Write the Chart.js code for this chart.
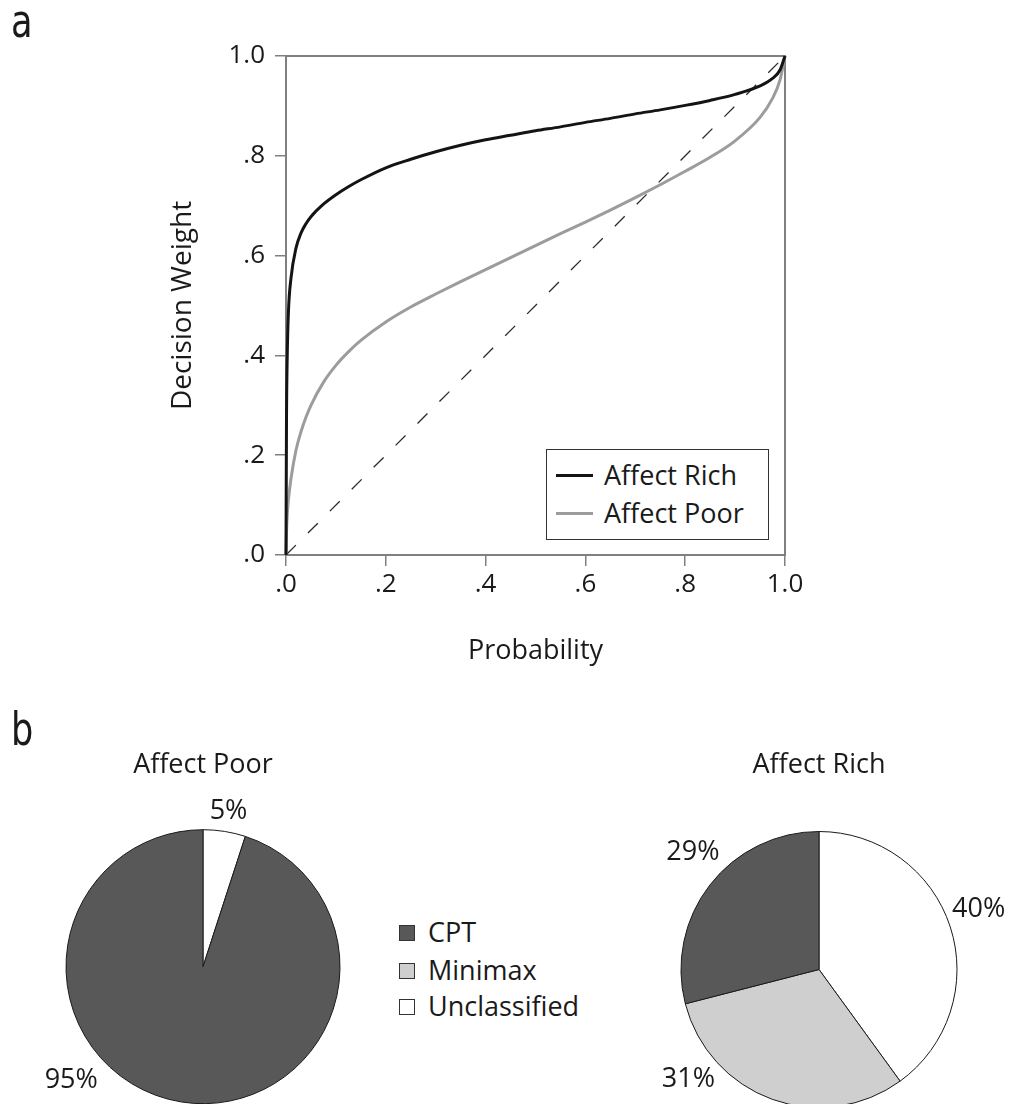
<!DOCTYPE html>
<html>
<head>
<meta charset="utf-8">
<script src="https://cdn.jsdelivr.net/npm/chart.js@4.4.1/dist/chart.umd.min.js"></script>
<style>
  html, body { margin:0; padding:0; background:#fff; width:1012px; height:1104px; overflow:hidden;
    font-family:"Open Sans", sans-serif; color:#1a1a1a; }
  .abs { position:absolute; }
  .panel { font-family:"Liberation Sans Narrow","DejaVu Sans Condensed","DejaVu Sans",sans-serif; font-stretch:condensed;
    font-size:46px; line-height:46px; transform:scaleX(0.85); transform-origin:left top; }
  .txt { font-size:27px; line-height:32px; white-space:nowrap; }
</style>
</head>
<body>
<div class="abs" style="left:0;top:0;width:1012px;height:700px"><canvas id="weights"></canvas></div>
<div class="abs" style="left:23px;top:740px;width:360px;height:364px"><canvas id="piePoor"></canvas></div>
<div class="abs" style="left:629px;top:740px;width:380px;height:364px"><canvas id="pieRich"></canvas></div>

<div class="abs panel" style="left:11px;top:-2px">a</div>
<div class="abs panel" style="left:11px;top:706px">b</div>

<div id="lineLegend" class="abs" style="left:546px;top:449px;width:221px;height:89px;border:1px solid #333;background:#fff"></div>
<div id="pieLegend" class="abs" style="left:0;top:0"></div>

<script>
// ---------- data ----------
const probabilities     = [0, 0.001, 0.0025, 0.005, 0.01, 0.02, 0.03, 0.04, 0.05, 0.075, 0.1, 0.125, 0.15, 0.2, 0.25, 0.3, 0.35, 0.4, 0.45, 0.5, 0.55, 0.6, 0.65, 0.7, 0.75, 0.8, 0.85, 0.9, 0.95, 0.975, 0.99, 1];
const affectRichWeights = [0, 0.27, 0.40, 0.49, 0.555, 0.615, 0.645, 0.664, 0.678, 0.703, 0.722, 0.738, 0.752, 0.776, 0.793, 0.808, 0.821, 0.832, 0.841, 0.85, 0.858, 0.867, 0.875, 0.884, 0.892, 0.901, 0.911, 0.923, 0.94, 0.955, 0.972, 1];
const affectPoorWeights = [0, 0.045, 0.08, 0.112, 0.153, 0.21, 0.247, 0.276, 0.3, 0.346, 0.38, 0.407, 0.43, 0.467, 0.497, 0.523, 0.548, 0.572, 0.596, 0.62, 0.644, 0.667, 0.691, 0.716, 0.742, 0.769, 0.797, 0.83, 0.877, 0.915, 0.952, 1];
const diagonalX         = [0, 1];
const diagonalY         = [0, 1];
const xTickLabels       = ['.0', '.2', '.4', '.6', '.8', '1.0'];
const yTickLabels       = ['.0', '.2', '.4', '.6', '.8', '1.0'];
const lineSeriesNames   = ['Affect Rich', 'Affect Poor'];

const strategyCategories = ['Unclassified', 'Minimax', 'CPT'];
const affectPoorShares   = [5, 0, 95];
const affectRichShares   = [40, 31, 29];
const pieLegendOrder     = ['CPT', 'Minimax', 'Unclassified'];

// ---------- styles ----------
const FONT = '"Open Sans", sans-serif';
const TEXT = '#1a1a1a';
const AXIS = '#808080';
const strategyColors = { CPT: '#585858', Minimax: '#cfcfcf', Unclassified: '#ffffff' };
const seriesColors = { 'Affect Rich': '#141414', 'Affect Poor': '#9c9c9c' };

const toPoints = (xs, ys) => xs.map((x, i) => ({ x: x, y: ys[i] }));

const framePlugin = {
  id: 'frame',
  beforeDatasetsDraw(chart) {
    const { ctx, chartArea: { left, top, right, bottom } } = chart;
    ctx.save();
    ctx.strokeStyle = AXIS;
    ctx.lineWidth = 2;
    ctx.strokeRect(left, top, right - left, bottom - top);
    ctx.restore();
  }
};

new Chart(document.getElementById('weights'), {
  type: 'scatter',
  data: {
    datasets: [
      { label: lineSeriesNames[0], data: toPoints(probabilities, affectRichWeights), showLine: true,
        borderColor: seriesColors['Affect Rich'], borderWidth: 3, pointRadius: 0, cubicInterpolationMode: 'monotone', clip: 4 },
      { label: lineSeriesNames[1], data: toPoints(probabilities, affectPoorWeights), showLine: true,
        borderColor: seriesColors['Affect Poor'], borderWidth: 3, pointRadius: 0, cubicInterpolationMode: 'monotone', clip: 4 },
      { label: 'diagonal', data: toPoints(diagonalX, diagonalY), showLine: true,
        borderColor: '#2a2a2a', borderWidth: 1.3, borderDash: [14, 17], pointRadius: 0, tension: 0 }
    ]
  },
  options: {
    responsive: true, maintainAspectRatio: false, animation: false,
    layout: { padding: { top: 56, right: 227, bottom: 0, left: 0 } },
    plugins: { legend: { display: false }, tooltip: { enabled: false } },
    scales: {
      x: {
        type: 'linear', min: 0, max: 1,
        afterFit(scale) { scale.height = 145; },
        ticks: { stepSize: 0.2, padding: 3, color: TEXT, font: { family: FONT, size: 26 },
                 callback: (v, i) => xTickLabels[i] },
        grid: { drawOnChartArea: false, drawTicks: true, tickLength: 11, color: AXIS, lineWidth: 1.5 },
        border: { display: true, color: AXIS, width: 2 },
        title: { display: true, text: 'Probability', color: TEXT, font: { family: FONT, size: 27 },
                 padding: { top: 0, bottom: 32 } }
      },
      y: {
        type: 'linear', min: 0, max: 1,
        afterFit(scale) { scale.width = 286; },
        ticks: { stepSize: 0.2, padding: 10, color: TEXT, font: { family: FONT, size: 26 },
                 callback: (v, i) => yTickLabels[i] },
        grid: { drawOnChartArea: false, drawTicks: true, tickLength: 11, color: AXIS, lineWidth: 1.5 },
        border: { display: true, color: AXIS, width: 2 },
        title: { display: true, text: 'Decision Weight', color: TEXT, font: { family: FONT, size: 28 },
                 padding: { top: 166, bottom: 0 } }
      }
    }
  },
  plugins: [framePlugin]
});

// legend inside the line chart
(function () {
  const box = document.getElementById('lineLegend');
  const rows = [{ name: lineSeriesNames[0], lineTop: 24, textTop: 9 }, { name: lineSeriesNames[1], lineTop: 62, textTop: 47 }];
  rows.forEach(r => {
    const ln = document.createElement('div');
    ln.className = 'abs';
    ln.style.cssText = `left:9px;top:${r.lineTop}px;width:37px;height:3px;background:${seriesColors[r.name]}`;
    box.appendChild(ln);
    const t = document.createElement('div');
    t.className = 'abs txt';
    t.style.cssText = `left:57px;top:${r.textTop}px`;
    t.textContent = r.name;
    box.appendChild(t);
  });
})();

// slice labels
const sliceLabelPlugin = {
  id: 'sliceLabels',
  afterDatasetsDraw(chart, args, opts) {
    const meta = chart.getDatasetMeta(0);
    const ctx = chart.ctx;
    ctx.save();
    ctx.font = `${opts.size}px ${FONT}`;
    ctx.fillStyle = TEXT;
    ctx.textAlign = 'center';
    ctx.textBaseline = 'middle';
    (opts.items || []).forEach(it => {
      const arc = meta.data[it.index];
      const p = arc.getProps(['x', 'y', 'outerRadius'], true);
      const a = it.angle * Math.PI / 180;
      const d = p.outerRadius + it.offset;
      ctx.fillText(chart.data.datasets[0].data[it.index] + '%', p.x + d * Math.sin(a), p.y - d * Math.cos(a) + 1);
    });
    ctx.restore();
  }
};

function makePie(id, title, shares, radius, titleGap, items) {
  new Chart(document.getElementById(id), {
    type: 'pie',
    data: {
      labels: strategyCategories,
      datasets: [{ data: shares, backgroundColor: strategyCategories.map(c => strategyColors[c]),
                   borderColor: '#1a1a1a', borderWidth: 1, clip: false }]
    },
    options: {
      responsive: true, maintainAspectRatio: false, animation: false,
      radius: radius,
      layout: { padding: 0 },
      plugins: {
        legend: { display: false }, tooltip: { enabled: false },
        title: { display: true, text: title, color: TEXT, font: { family: FONT, size: 27, weight: 'normal' },
                 padding: { top: 9, bottom: titleGap } },
        sliceLabels: { size: 27, items: items }
      }
    },
    plugins: [sliceLabelPlugin]
  });
}

makePie('piePoor', 'Affect Poor', affectPoorShares, 137, 48,
  [{ index: 0, angle: 9.3, offset: 21 }, { index: 2, angle: 229.6, offset: 36 }]);
makePie('pieRich', 'Affect Rich', affectRichShares, 138, 53.6,
  [{ index: 0, angle: 69, offset: 33 }, { index: 1, angle: 230.2, offset: 32 }, { index: 2, angle: 313.2, offset: 35 }]);

// legend between pies
(function () {
  const host = document.getElementById('pieLegend');
  const centers = [932.5, 970.5, 1007];
  pieLegendOrder.forEach((name, i) => {
    const sq = document.createElement('div');
    sq.className = 'abs';
    sq.style.cssText = `left:399px;top:${centers[i] - 8}px;width:14px;height:14px;border:1px solid #333;background:${strategyColors[name]}`;
    host.appendChild(sq);
    const t = document.createElement('div');
    t.className = 'abs txt';
    t.style.cssText = `left:428px;top:${centers[i] - 17}px`;
    t.textContent = name;
    host.appendChild(t);
  });
})();
</script>
</body>
</html>
